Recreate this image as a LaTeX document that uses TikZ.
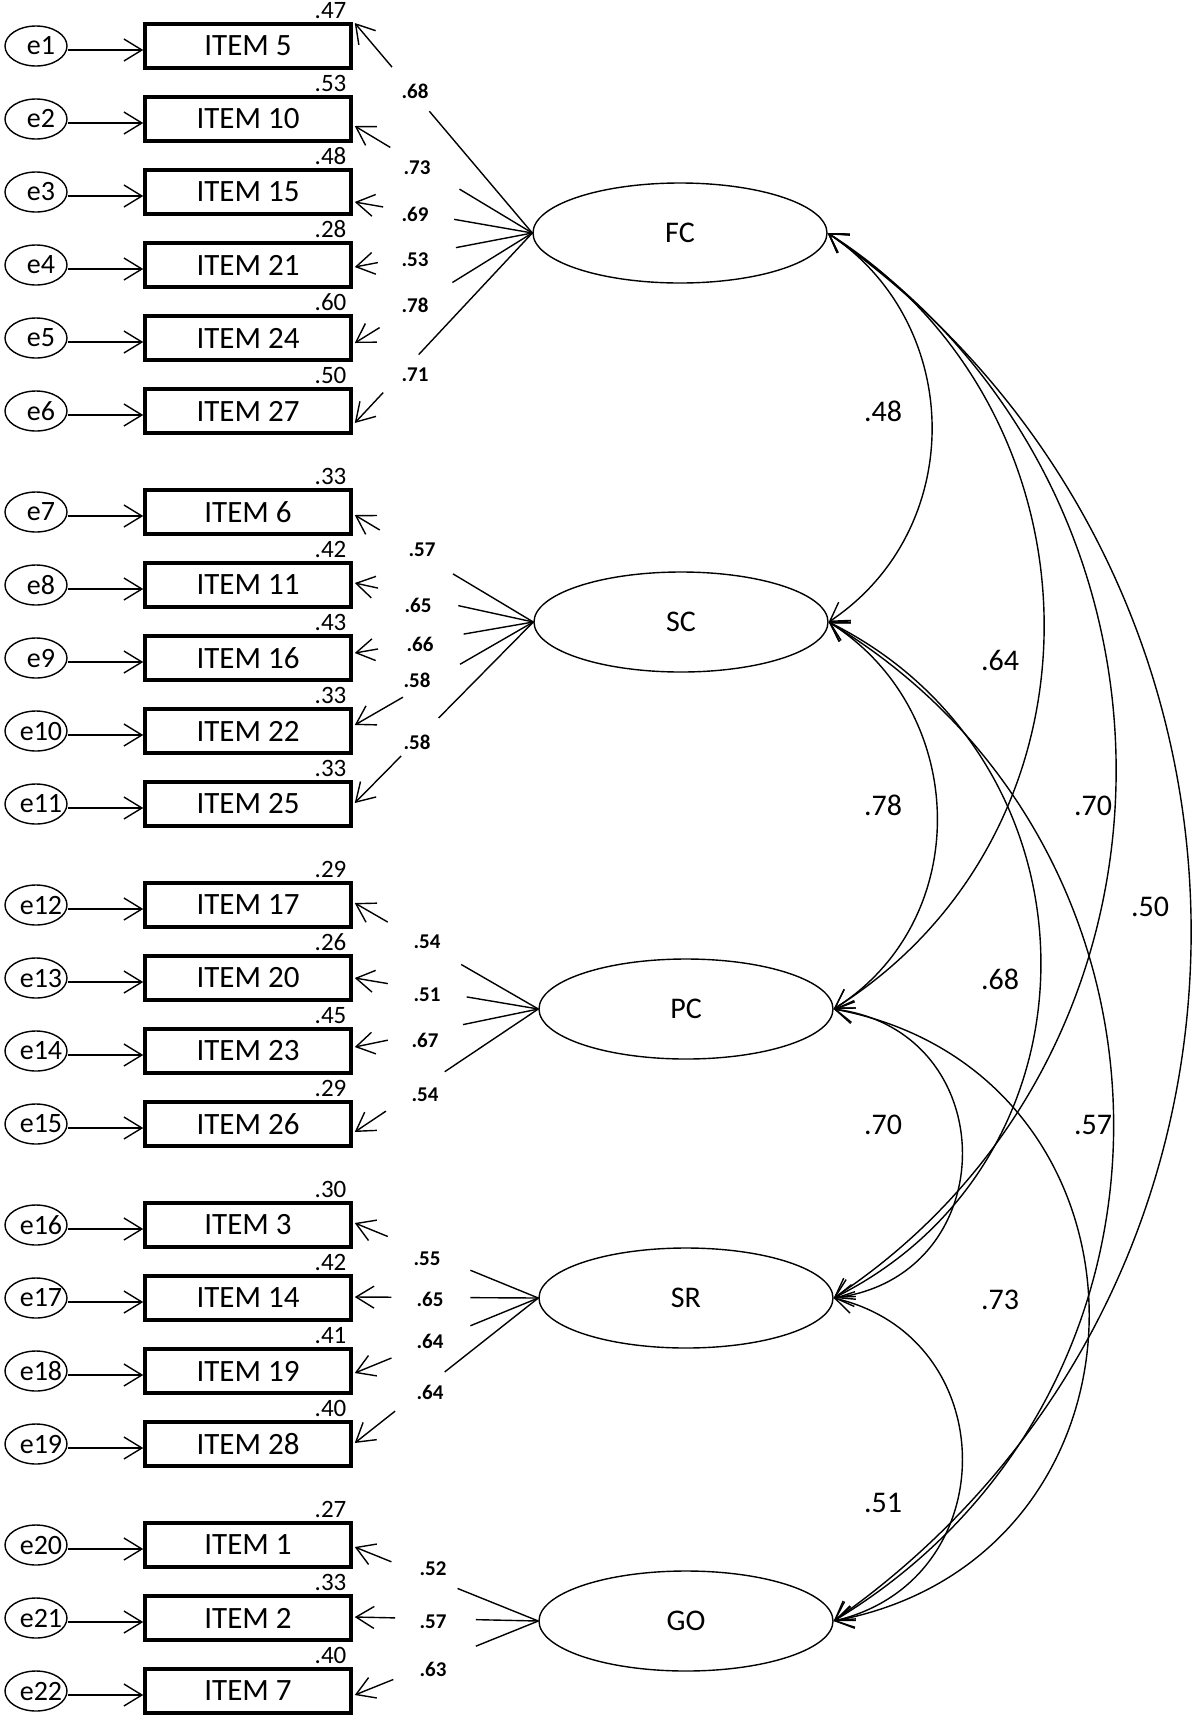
\documentclass[tikz,border=0pt]{standalone}
\usepackage{fontspec}
\setmainfont{Carlito}
\usetikzlibrary{shapes.geometric,arrows.meta,calc}
\begin{document}
\begin{tikzpicture}[x=0.5pt,y=-0.5pt,
  box/.style={draw,line width=1.75pt,minimum width=103pt,minimum height=22pt,inner sep=0pt,font=\fontsize{15.5}{18}\selectfont},
  err/.style={draw,ellipse,line width=0.7pt,minimum width=31pt,minimum height=20pt,inner sep=0pt},
  errtxt/.style={font=\fontsize{14}{16}\selectfont,xshift=2.5pt,inner sep=0pt},
  lat/.style={draw,ellipse,line width=0.7pt,minimum width=147pt,minimum height=50pt,inner sep=0pt,font=\fontsize{15}{18}\selectfont},
  rsq/.style={font=\fontsize{12.5}{14}\selectfont,inner sep=0pt,anchor=base east},
  ldl/.style={font=\bfseries\fontsize{10.5}{12}\selectfont,inner sep=0pt},
  crl/.style={font=\fontsize{15}{18}\selectfont,inner sep=0pt},
  con/.style={line width=0.7pt},
  >={Straight Barb[length=9pt,width=11pt]}]
\useasboundingbox (0,0) rectangle (1194,1720);

% observed items, error terms, squared multiple correlations
\foreach \nm/\tx/\yy/\rr [count=\kk] in {
  i5/ITEM 5/46/.47, i10/ITEM 10/119/.53, i15/ITEM 15/192/.48, i21/ITEM 21/265/.28, i24/ITEM 24/338/.60, i27/ITEM 27/411/.50,
  i6/ITEM 6/512/.33, i11/ITEM 11/585/.42, i16/ITEM 16/658/.43, i22/ITEM 22/731/.33, i25/ITEM 25/804/.33,
  i17/ITEM 17/905/.29, i20/ITEM 20/978/.26, i23/ITEM 23/1051/.45, i26/ITEM 26/1124/.29,
  i3/ITEM 3/1225/.30, i14/ITEM 14/1298/.42, i19/ITEM 19/1371/.41, i28/ITEM 28/1444/.40,
  i1/ITEM 1/1545/.27, i2/ITEM 2/1618/.33, i7/ITEM 7/1691/.40}
{
  \node[box] (\nm) at (248,\yy) {\tx};
  \node[err, label={[errtxt]center:e\kk}] (e\kk) at (36,\yy) {};
  \node[rsq] at ([xshift=-3pt,yshift=2pt]\nm.north east) {\rr};
  \draw[con,->] ([yshift=-2pt]e\kk.east) -- ([yshift=-2pt]\nm.west);
}

% latent factors
\node[lat] (FC) at (680,233) {FC};
\node[lat] (SC) at (681,622) {SC};
\node[lat] (PC) at (686,1009) {PC};
\node[lat] (SR) at (686,1298) {SR};
\node[lat] (GO) at (686,1621) {GO};

% factor loadings
\foreach \bx/\la/\dy/\ts/\tb/\lv/\lx/\ly in {
  i5/FC/-23/0.58/0.79/.68/415/91,
  i10/FC/7/0.41/0.80/.73/417/168,
  i15/FC/10/0.44/0.84/.69/415/214,
  i21/FC/2/0.43/0.87/.53/415/260,
  i24/FC/5/0.45/0.86/.78/415/305,
  i27/FC/12/0.64/0.84/.71/415/375,
  i6/SC/3/0.45/0.86/.57/422/550,
  i11/SC/-2/0.42/0.87/.65/418/605,
  i16/SC/-5/0.39/0.87/.66/420/644,
  i22/SC/-6/0.41/0.73/.58/417/680,
  i25/SC/-1/0.53/0.74/.58/417/742,
  i17/PC/-2/0.42/0.82/.54/427/942,
  i20/PC/0/0.39/0.82/.51/427/995,
  i23/PC/-4/0.41/0.82/.67/425/1040,
  i26/PC/8/0.51/0.83/.54/425/1095,
  i3/SR/-2/0.37/0.82/.55/427/1259,
  i14/SR/-1/0.37/0.80/.65/430/1299,
  i19/SR/2/0.37/0.80/.64/430/1341,
  i28/SR/-1/0.51/0.78/.64/430/1392,
  i1/GO/2/0.44/0.80/.52/433/1569,
  i2/GO/-1/0.34/0.78/.57/433/1622,
  i7/GO/4/0.34/0.79/.63/433/1669}
{
  \coordinate (tip-\bx) at ([xshift=1pt,yshift={-0.5pt*(\dy)}]\bx.east);
  \draw[con] (\la.west) -- ($(\la.west)!\ts!(tip-\bx)$);
  \draw[con,->] ($(\la.west)!\tb!(tip-\bx)$) -- (tip-\bx);
  \node[ldl] at (\lx,\ly) {\lv};
}

% factor correlations
\foreach \fa/\fb/\cx/\cy in {
  FC/SC/138/92, SC/PC/141/89, PC/SR/171/22, SR/GO/171/40,
  FC/PC/284/179, SC/SR/279/139, PC/GO/340/64,
  FC/SR/380/252, SC/GO/376/227, FC/GO/480/337}
{
  \draw[con,<->] (\fa.east) .. controls +(\cx,\cy) and +(\cx,-\cy) .. (\fb.east);
}

\node[crl] at (883,411) {.48};
\node[crl] at (883,805) {.78};
\node[crl] at (883,1125) {.70};
\node[crl] at (883,1503) {.51};
\node[crl] at (1000,660) {.64};
\node[crl] at (1000,979) {.68};
\node[crl] at (1000,1300) {.73};
\node[crl] at (1093,806) {.70};
\node[crl] at (1093,1125) {.57};
\node[crl] at (1150,907) {.50};
\end{tikzpicture}
\end{document}
